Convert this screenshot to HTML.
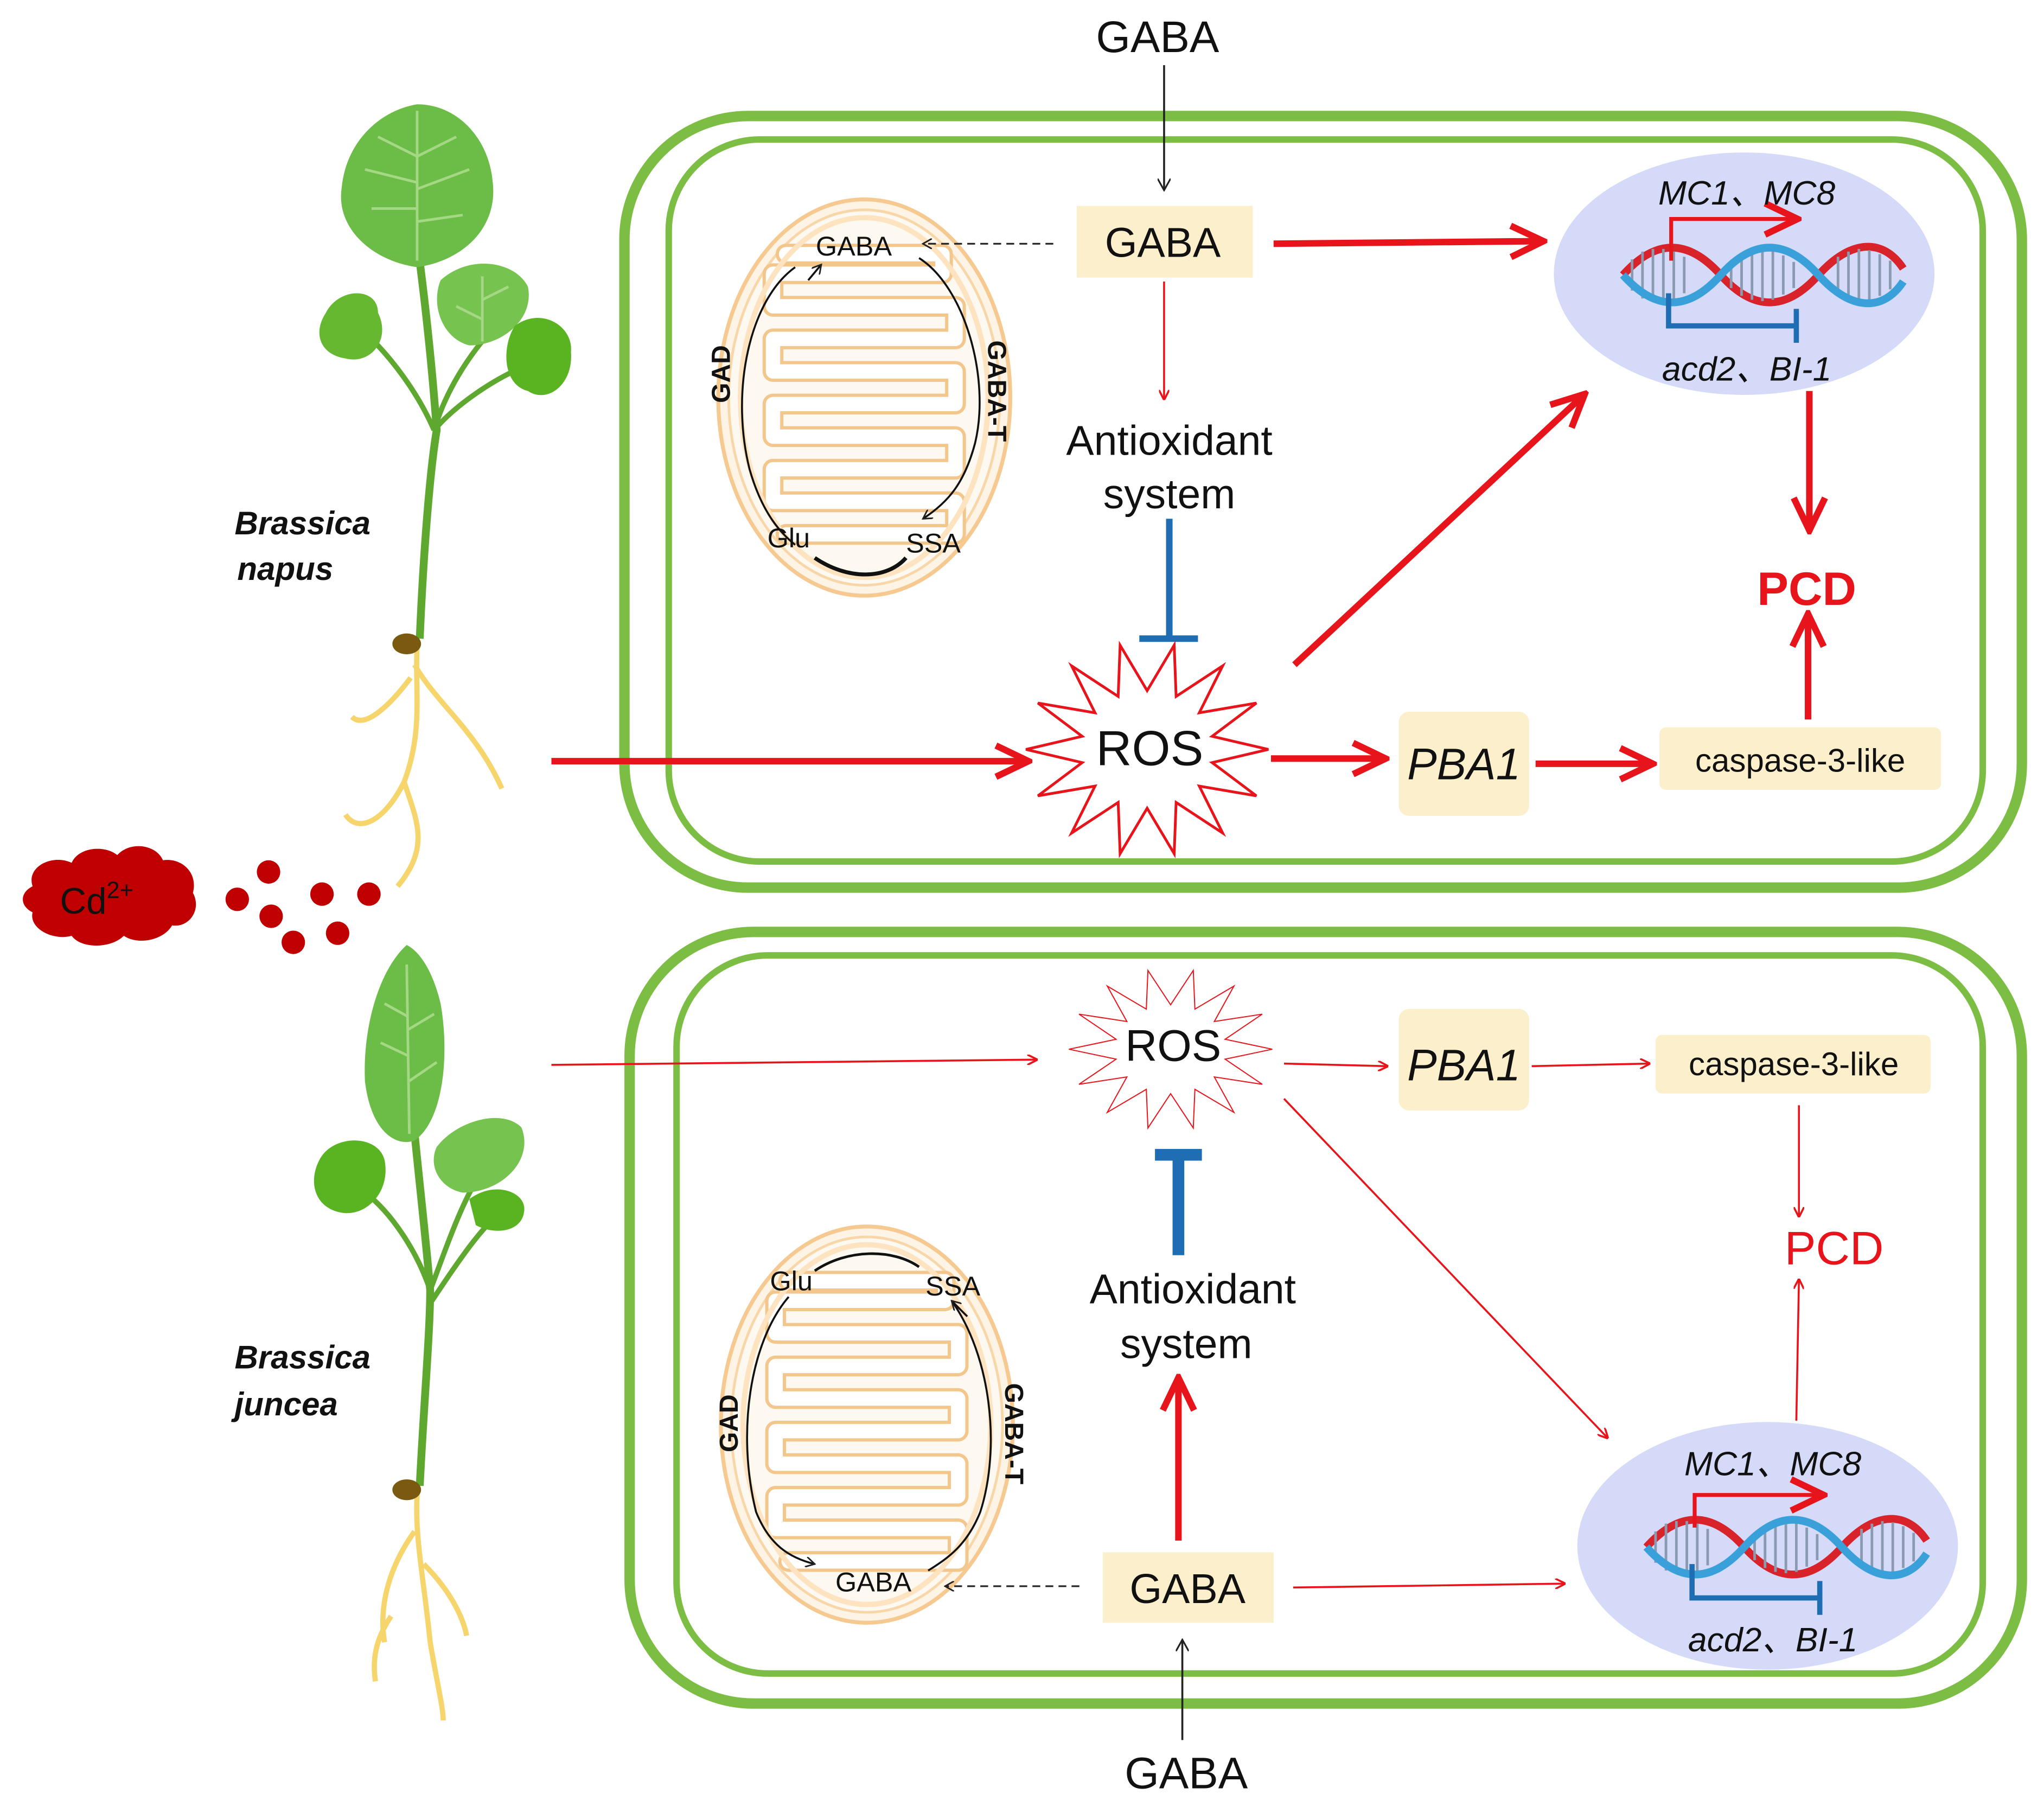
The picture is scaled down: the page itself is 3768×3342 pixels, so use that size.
<!DOCTYPE html>
<html><head><meta charset="utf-8"><style>
html,body{margin:0;padding:0;background:#fff;}
svg{display:block;}
text{font-family:"Liberation Sans",Arial,sans-serif;}
</style></head><body>
<svg width="3768" height="3342" viewBox="0 0 1568 1391" preserveAspectRatio="none" xmlns="http://www.w3.org/2000/svg">
<defs>
<marker id="ar" markerWidth="8" markerHeight="8" refX="7" refY="4" orient="auto" markerUnits="userSpaceOnUse"><path d="M0,0 L8,4 L0,8" fill="none" stroke="#e8141b" stroke-width="1.5"/></marker>
<marker id="arT" markerWidth="30" markerHeight="30" refX="26" refY="15" orient="auto" markerUnits="userSpaceOnUse"><path d="M2,3 L27,15 L2,27" fill="none" stroke="#e8141b" stroke-width="5"/></marker>
<marker id="ak" markerWidth="10" markerHeight="10" refX="9" refY="5" orient="auto" markerUnits="userSpaceOnUse"><path d="M0,0 L9,5 L0,10" fill="none" stroke="#222" stroke-width="1.3"/></marker>
<marker id="aks" markerWidth="8" markerHeight="8" refX="7" refY="4" orient="auto" markerUnits="userSpaceOnUse"><path d="M0,0 L7,4 L0,8" fill="none" stroke="#222" stroke-width="1.2"/></marker>
<g id="mito">
<ellipse cx="0" cy="0" rx="112" ry="152" fill="#fdf4e6" stroke="#f6c990" stroke-width="3"/>
<ellipse cx="0" cy="0" rx="104" ry="144" fill="#fdf8f0" stroke="#f8d6a8" stroke-width="2"/>
<path d="M-60,-110 H60 V-95 H-70 V-70 H70 V-45 H-70 V-20 H70 V5 H-70 V30 H70 V55 H-70 V80 H70 V105 H-60" fill="none" stroke="#f3c68c" stroke-width="16" stroke-linejoin="round" stroke-linecap="round"/>
<path d="M-60,-110 H60 V-95 H-70 V-70 H70 V-45 H-70 V-20 H70 V5 H-70 V30 H70 V55 H-70 V80 H70 V105 H-60" fill="none" stroke="#fff" stroke-width="11" stroke-linejoin="round" stroke-linecap="round"/>
<ellipse cx="0" cy="0" rx="95" ry="138" fill="none" stroke="#fde3bf" stroke-width="4"/>
</g>
<g id="dna">
<path d="M-105,0 C-80,-28 -55,-28 -30,0 S20,28 45,0 S95,-28 110,-5" fill="none" stroke="#d9232b" stroke-width="6"/>
<g stroke="#8a9ab0" stroke-width="2">
<line x1="-98" y1="-12" x2="-98" y2="12"/><line x1="-90" y1="-18" x2="-90" y2="18"/><line x1="-82" y1="-20" x2="-82" y2="20"/><line x1="-74" y1="-20" x2="-74" y2="20"/><line x1="-66" y1="-18" x2="-66" y2="18"/><line x1="-58" y1="-14" x2="-58" y2="14"/>
<line x1="-22" y1="-10" x2="-22" y2="10"/><line x1="-14" y1="-16" x2="-14" y2="16"/><line x1="-6" y1="-19" x2="-6" y2="19"/><line x1="2" y1="-20" x2="2" y2="20"/><line x1="10" y1="-19" x2="10" y2="19"/><line x1="18" y1="-15" x2="18" y2="15"/><line x1="26" y1="-10" x2="26" y2="10"/>
<line x1="60" y1="-14" x2="60" y2="14"/><line x1="68" y1="-18" x2="68" y2="18"/><line x1="76" y1="-20" x2="76" y2="20"/><line x1="84" y1="-19" x2="84" y2="19"/><line x1="92" y1="-16" x2="92" y2="16"/><line x1="100" y1="-11" x2="100" y2="11"/>
</g>
<path d="M-105,0 C-80,28 -55,28 -30,0 S20,-28 45,0 S95,28 110,5" fill="none" stroke="#3aa0da" stroke-width="6"/>
</g>
<polygon id="star" points="1,0 .536,.123 .901,.434 .430,.343 .623,.782 .239,.496 .223,.975 0,.55 -.223,.975 -.239,.496 -.623,.782 -.430,.343 -.901,.434 -.536,.123 -1,0 -.536,-.123 -.901,-.434 -.430,-.343 -.623,-.782 -.239,-.496 -.223,-.975 0,-.55 .223,-.975 .239,-.496 .623,-.782 .430,-.343 .901,-.434 .536,-.123" fill="#fff" stroke="#e8141b" vector-effect="non-scaling-stroke"/>
</defs>

<rect x="479" y="89" width="1072" height="592" rx="95" fill="none" stroke="#7cbd44" stroke-width="8"/>
<rect x="513" y="107" width="1008" height="554" rx="70" fill="none" stroke="#7cbd44" stroke-width="5"/>
<rect x="483" y="715" width="1068" height="592" rx="95" fill="none" stroke="#7cbd44" stroke-width="8"/>
<rect x="519" y="733" width="1002" height="551" rx="70" fill="none" stroke="#7cbd44" stroke-width="5"/>

<g>
<path d="M322,490 C325,420 330,360 335,330 C330,260 322,200 318,170" fill="none" stroke="#5ea82f" stroke-width="6"/>
<path d="M333,330 C345,290 370,260 385,245 M333,330 C320,300 300,275 285,260 M333,330 C350,310 380,290 405,280" fill="none" stroke="#5ea82f" stroke-width="4"/>
<path d="M320,80 C290,85 265,110 262,145 C258,175 285,200 320,205 C355,200 382,175 378,140 C375,105 350,80 320,80Z" fill="#6cbd47"/>
<path d="M320,85 V200 M320,120 L290,105 M320,140 L280,130 M320,160 L285,160 M320,120 L350,105 M320,145 L360,130 M320,170 L355,165" stroke="#a5d884" stroke-width="2" fill="none"/>
<path d="M338,215 C360,195 395,200 405,220 C410,245 385,265 360,265 C340,260 330,235 338,215Z" fill="#76c44f"/>
<path d="M370,212 L370,262 M370,230 L390,220 M370,245 L350,235" stroke="#a5d884" stroke-width="2"/>
<path d="M250,240 C260,220 290,220 290,240 C300,260 285,280 265,275 C245,272 240,255 250,240Z" fill="#66b830"/>
<path d="M395,250 C415,235 440,250 438,270 C440,295 420,310 405,300 C385,295 385,265 395,250Z" fill="#5ab421"/>
<path d="M320,494 C318,530 325,560 310,600 C295,630 275,640 265,625 M318,510 C335,540 365,560 385,605 M315,520 C300,540 280,560 270,550 M310,600 C320,630 330,650 305,680" fill="none" stroke="#f6d56c" stroke-width="4"/>
<ellipse cx="312" cy="494" rx="11" ry="8" fill="#7a5a10"/>
</g>
<text x="180" y="410" font-size="25" font-weight="bold" font-style="italic" fill="#111">Brassica</text>
<text x="182" y="445" font-size="25" font-weight="bold" font-style="italic" fill="#111">napus</text>

<g>
<path d="M322,1140 C325,1080 330,1020 330,990 C325,930 318,880 312,800" fill="none" stroke="#5ea82f" stroke-width="6"/>
<path d="M330,990 C320,960 300,930 280,915 M330,990 C345,950 355,920 372,895 M330,1000 C350,970 370,940 385,930" fill="none" stroke="#5ea82f" stroke-width="4"/>
<path d="M312,725 C290,745 278,790 280,830 C285,870 305,880 318,875 C340,860 345,810 338,770 C332,745 322,730 312,725Z" fill="#6cbd47"/>
<path d="M312,740 L314,870 M313,780 L295,770 M313,810 L292,800 M313,790 L333,778 M313,830 L335,815" stroke="#a5d884" stroke-width="2" fill="none"/>
<path d="M245,890 C255,870 290,870 295,890 C300,915 280,935 260,930 C240,925 237,905 245,890Z" fill="#5ab421"/>
<path d="M335,880 C350,860 385,850 400,865 C410,890 385,915 355,915 C338,912 328,895 335,880Z" fill="#76c44f"/>
<path d="M360,920 C380,905 405,915 402,930 C400,945 380,948 365,940Z" fill="#5ab421"/>
<path d="M320,1145 C318,1180 325,1210 330,1260 C335,1290 340,1310 340,1320 M318,1175 C300,1200 290,1230 295,1260 M325,1200 C345,1220 355,1240 358,1255 M300,1240 C290,1255 285,1270 288,1290" fill="none" stroke="#f6d56c" stroke-width="4"/>
<ellipse cx="312" cy="1143" rx="11" ry="8" fill="#7a5a10"/>
</g>
<text x="180" y="1050" font-size="25" font-weight="bold" font-style="italic" fill="#111">Brassica</text>
<text x="180" y="1086" font-size="25" font-weight="bold" font-style="italic" fill="#111">juncea</text>

<path d="M25,680 C20,665 40,655 55,662 C60,650 80,648 90,656 C100,645 120,648 125,660 C140,658 152,670 148,685 C155,698 145,712 132,710 C125,722 105,725 95,718 C85,728 62,728 55,718 C40,722 22,712 25,700 C15,695 15,685 25,680Z" fill="#c00000"/>
<text x="46" y="701" font-size="28" fill="#111">Cd<tspan font-size="18" dy="-12">2+</tspan></text>
<g fill="#c00000">
<ellipse cx="206" cy="669" rx="9" ry="9"/><ellipse cx="182" cy="690" rx="9" ry="9"/><ellipse cx="247" cy="686" rx="9" ry="9"/><ellipse cx="283" cy="686" rx="9" ry="9"/><ellipse cx="208" cy="703" rx="9" ry="9"/><ellipse cx="225" cy="723" rx="9" ry="9"/><ellipse cx="259" cy="716" rx="9" ry="9"/>
</g>

<!-- TOP CELL -->
<text x="888" y="40" font-size="34" text-anchor="middle" fill="#111">GABA</text>
<line x1="893" y1="50" x2="893" y2="146" stroke="#222" stroke-width="1.5" marker-end="url(#ak)"/>
<rect x="826" y="158" width="135" height="55" fill="#fcefcc"/>
<text x="892" y="197" font-size="32" text-anchor="middle" fill="#111">GABA</text>
<use href="#mito" transform="translate(663,305)"/>
<line x1="808" y1="187" x2="708" y2="187" stroke="#222" stroke-width="1.3" stroke-dasharray="6,4" marker-end="url(#aks)"/>
<path d="M610,205 C575,230 560,300 575,360 C585,395 600,410 610,418" fill="none" stroke="#111" stroke-width="1.5"/>
<path d="M620,215 L630,203" stroke="#111" stroke-width="1.5" marker-end="url(#aks)"/>
<path d="M705,198 C740,220 760,290 748,340 C740,370 728,385 708,398" fill="none" stroke="#111" stroke-width="1.5" marker-end="url(#aks)"/>
<path d="M625,428 C650,445 680,445 695,428" fill="none" stroke="#111" stroke-width="3"/>
<text x="655" y="196" font-size="21" text-anchor="middle" fill="#111">GABA</text>
<text x="605" y="420" font-size="21" text-anchor="middle" fill="#111">Glu</text>
<text x="716" y="424" font-size="21" text-anchor="middle" fill="#111">SSA</text>
<text transform="translate(560,287) rotate(-90)" font-size="20" font-weight="bold" text-anchor="middle" fill="#111">GAD</text>
<text transform="translate(758,300) rotate(90)" font-size="20" font-weight="bold" text-anchor="middle" fill="#111">GABA-T</text>

<line x1="893" y1="216" x2="893" y2="306" stroke="#e8141b" stroke-width="1.5" marker-end="url(#ar)"/>
<text x="897" y="349" font-size="32" text-anchor="middle" fill="#111">Antioxidant</text>
<text x="897" y="390" font-size="32" text-anchor="middle" fill="#111">system</text>
<line x1="897" y1="398" x2="897" y2="490" stroke="#1f6db3" stroke-width="5"/>
<line x1="874" y1="490" x2="919" y2="490" stroke="#1f6db3" stroke-width="5"/>

<use href="#star" transform="translate(880,575) scale(93,82)" stroke-width="5"/>
<text x="882" y="587" font-size="38" text-anchor="middle" fill="#111">ROS</text>
<line x1="423" y1="584" x2="788" y2="584" stroke="#e8141b" stroke-width="5" marker-end="url(#arT)"/>
<line x1="975" y1="582" x2="1062" y2="582" stroke="#e8141b" stroke-width="5" marker-end="url(#arT)"/>
<rect x="1073" y="546" width="100" height="80" rx="8" fill="#fcefcc"/>
<text x="1123" y="598" font-size="34" font-style="italic" text-anchor="middle" fill="#111">PBA1</text>
<line x1="1178" y1="586" x2="1267" y2="586" stroke="#e8141b" stroke-width="5" marker-end="url(#arT)"/>
<rect x="1273" y="558" width="216" height="48" rx="5" fill="#fcefcc"/>
<text x="1381" y="592" font-size="25" text-anchor="middle" fill="#111">caspase-3-like</text>
<line x1="1387" y1="552" x2="1387" y2="472" stroke="#e8141b" stroke-width="5" marker-end="url(#arT)"/>
<text x="1386" y="464" font-size="36" font-weight="bold" text-anchor="middle" fill="#e8141b">PCD</text>
<line x1="977" y1="187" x2="1183" y2="185" stroke="#e8141b" stroke-width="5" marker-end="url(#arT)"/>
<line x1="993" y1="510" x2="1215" y2="303" stroke="#e8141b" stroke-width="5" marker-end="url(#arT)"/>
<line x1="1388" y1="300" x2="1388" y2="406" stroke="#e8141b" stroke-width="5" marker-end="url(#arT)"/>

<ellipse cx="1338" cy="210" rx="146" ry="93" fill="#d4daf7"/>
<use href="#dna" transform="translate(1350,211)"/>
<path d="M1282,200 V168 H1378" fill="none" stroke="#e8141b" stroke-width="3" marker-end="url(#arT)"/>
<path d="M1280,225 V250 H1378 M1378,237 V263" fill="none" stroke="#1f6db3" stroke-width="4"/>
<text x="1340" y="157" font-size="26" font-style="italic" text-anchor="middle" fill="#111">MC1、MC8</text>
<text x="1340" y="292" font-size="26" font-style="italic" text-anchor="middle" fill="#111">acd2、BI-1</text>

<!-- BOTTOM CELL -->
<line x1="423" y1="817" x2="795" y2="813" stroke="#e8141b" stroke-width="1.5" marker-end="url(#ar)"/>
<use href="#star" transform="translate(898,805) scale(78,62)" stroke-width="2"/>
<text x="900" y="814" font-size="34" text-anchor="middle" fill="#111">ROS</text>
<line x1="985" y1="816" x2="1064" y2="818" stroke="#e8141b" stroke-width="1.5" marker-end="url(#ar)"/>
<rect x="1073" y="774" width="100" height="78" rx="8" fill="#fcefcc"/>
<text x="1123" y="829" font-size="34" font-style="italic" text-anchor="middle" fill="#111">PBA1</text>
<line x1="1175" y1="818" x2="1265" y2="816" stroke="#e8141b" stroke-width="1.5" marker-end="url(#ar)"/>
<rect x="1270" y="794" width="211" height="45" rx="5" fill="#fcefcc"/>
<text x="1376" y="825" font-size="25" text-anchor="middle" fill="#111">caspase-3-like</text>
<line x1="1380" y1="848" x2="1380" y2="933" stroke="#e8141b" stroke-width="1.5" marker-end="url(#ar)"/>
<text x="1407" y="970" font-size="36" text-anchor="middle" fill="#e8141b">PCD</text>
<line x1="1378" y1="1090" x2="1380" y2="982" stroke="#e8141b" stroke-width="1.5" marker-end="url(#ar)"/>
<line x1="985" y1="843" x2="1233" y2="1103" stroke="#e8141b" stroke-width="1.5" marker-end="url(#ar)"/>

<line x1="886" y1="886" x2="922" y2="886" stroke="#1f6db3" stroke-width="9"/>
<line x1="904" y1="886" x2="904" y2="963" stroke="#1f6db3" stroke-width="9"/>
<text x="915" y="1000" font-size="32" text-anchor="middle" fill="#111">Antioxidant</text>
<text x="910" y="1042" font-size="32" text-anchor="middle" fill="#111">system</text>
<line x1="904" y1="1182" x2="904" y2="1058" stroke="#e8141b" stroke-width="5" marker-end="url(#arT)"/>
<rect x="846" y="1191" width="131" height="54" fill="#fcefcc"/>
<text x="911" y="1230" font-size="32" text-anchor="middle" fill="#111">GABA</text>
<line x1="992" y1="1218" x2="1200" y2="1215" stroke="#e8141b" stroke-width="1.5" marker-end="url(#ar)"/>
<text x="910" y="1372" font-size="34" text-anchor="middle" fill="#111">GABA</text>
<line x1="907" y1="1335" x2="907" y2="1258" stroke="#222" stroke-width="1.5" marker-end="url(#ak)"/>

<use href="#mito" transform="translate(665,1093)"/>
<line x1="828" y1="1217" x2="725" y2="1217" stroke="#222" stroke-width="1.3" stroke-dasharray="6,4" marker-end="url(#aks)"/>
<path d="M605,995 C575,1030 565,1100 580,1160 C590,1185 605,1195 625,1200" fill="none" stroke="#111" stroke-width="1.5" marker-end="url(#aks)"/>
<path d="M730,998 C760,1040 768,1110 752,1160 C742,1185 728,1195 712,1205" fill="none" stroke="#111" stroke-width="1.5"/>
<path d="M742,1010 L730,998" stroke="#111" stroke-width="1.5" marker-end="url(#aks)"/>
<path d="M625,975 C650,958 685,958 705,972" fill="none" stroke="#111" stroke-width="2"/>
<text x="607" y="990" font-size="21" text-anchor="middle" fill="#111">Glu</text>
<text x="731" y="994" font-size="21" text-anchor="middle" fill="#111">SSA</text>
<text x="670" y="1221" font-size="21" text-anchor="middle" fill="#111">GABA</text>
<text transform="translate(566,1092) rotate(-90)" font-size="20" font-weight="bold" text-anchor="middle" fill="#111">GAD</text>
<text transform="translate(771,1100) rotate(90)" font-size="20" font-weight="bold" text-anchor="middle" fill="#111">GABA-T</text>

<ellipse cx="1356" cy="1186" rx="146" ry="95" fill="#d4daf7"/>
<use href="#dna" transform="translate(1368,1187)"/>
<path d="M1300,1172 V1147 H1398" fill="none" stroke="#e8141b" stroke-width="3" marker-end="url(#arT)"/>
<path d="M1298,1200 V1226 H1396 M1396,1213 V1239" fill="none" stroke="#1f6db3" stroke-width="4"/>
<text x="1360" y="1132" font-size="26" font-style="italic" text-anchor="middle" fill="#111">MC1、MC8</text>
<text x="1360" y="1267" font-size="26" font-style="italic" text-anchor="middle" fill="#111">acd2、BI-1</text>
</svg>
</body></html>
